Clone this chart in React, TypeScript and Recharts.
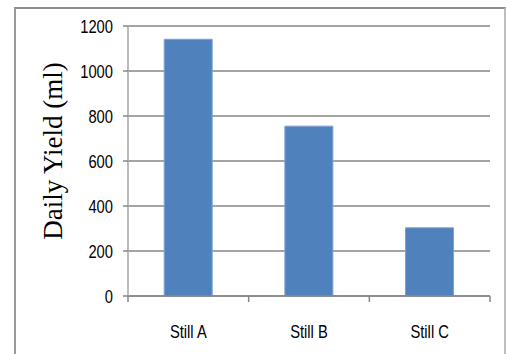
import React from "react";
import { BarChart, Bar, XAxis, YAxis, CartesianGrid } from "recharts";

const stills = ["Still A", "Still B", "Still C"];
const dailyYield = [1141, 755, 303];
const yTicks = [0, 200, 400, 600, 800, 1000, 1200];

const data = stills.map((name, i) => ({ name, yield: dailyYield[i] }));

const tickFont = "'Liberation Sans', Arial, sans-serif";
const squeeze = 0.82;
const gridGray = "#868686";

// narrow-looking tick text: regular sans squeezed horizontally around its anchor
const NarrowText = ({ x, y, anchor, baseline, children }: any) => (
  <text
    x={x}
    y={y}
    textAnchor={anchor}
    dominantBaseline={baseline}
    transform={`translate(${x},${y}) scale(${squeeze},1) translate(${-x},${-y})`}
    fontFamily={tickFont}
    fontSize={18}
    fill="#000"
  >
    {children}
  </text>
);

const YTick = (props: any) => {
  const { x, y, payload } = props;
  return (
    <NarrowText x={x} y={y} anchor="end" baseline="central">
      {payload.value}
    </NarrowText>
  );
};

// category label plus the small marks on the band edges
const XTick = (props: any) => {
  const { x, y, payload, index } = props;
  const half = payload.offset || 0;
  return (
    <g>
      {index === 0 && (
        <line x1={x - half} x2={x - half} y1={y} y2={y + 6} stroke={gridGray} strokeWidth={1.5} />
      )}
      <line x1={x + half} x2={x + half} y1={y} y2={y + 6} stroke={gridGray} strokeWidth={1.5} />
      <NarrowText x={x} y={y + 42} anchor="middle" baseline="alphabetic">
        {payload.value}
      </NarrowText>
    </g>
  );
};

const YLabel = (props: any) => {
  const { viewBox } = props;
  const cx = viewBox.x + 38;
  const cy = viewBox.y + viewBox.height / 2 - 10;
  return (
    <text
      x={cx}
      y={cy}
      transform={`rotate(-90, ${cx}, ${cy})`}
      textAnchor="middle"
      dominantBaseline="central"
      fontFamily="'Liberation Serif', 'Times New Roman', serif"
      fontSize={27}
      fill="#000"
    >
      Daily Yield (ml)
    </text>
  );
};

const App: React.FC = () => {
  return (
    <div style={{ position: "absolute", left: 0, top: 0, width: 506, height: 354, background: "#fff" }}>
      <div
        style={{
          position: "absolute",
          left: 14,
          top: 7,
          width: 488,
          height: 360,
          borderLeft: "2px solid #9a9a9a",
          borderTop: "2px solid #8c8c8c",
          borderRight: "2px solid #bdbdbd",
        }}
      />
      <BarChart
        width={506}
        height={354}
        data={data}
        margin={{ top: 26, right: 16, bottom: 28, left: 15 }}
        barCategoryGap="30%"
        style={{ position: "absolute", left: 0, top: 0 }}
      >
        <CartesianGrid vertical={false} stroke={gridGray} strokeWidth={1.5} />
        <XAxis
          dataKey="name"
          height={30}
          axisLine={{ stroke: gridGray, strokeWidth: 1.5 }}
          tickLine={false}
          tickSize={0}
          tickMargin={0}
          tick={<XTick />}
        />
        <YAxis
          width={113}
          domain={[0, 1200]}
          ticks={yTicks}
          interval={0}
          axisLine={{ stroke: "#a6a6a6", strokeWidth: 1.5 }}
          tickSize={5}
          tickMargin={10}
          tickLine={{ stroke: gridGray, strokeWidth: 1.5 }}
          tick={<YTick />}
          label={<YLabel />}
        />
        <Bar dataKey="yield" fill="#4f81bd" stroke="#7ea1d3" strokeWidth={1} isAnimationActive={false} />
      </BarChart>
    </div>
  );
};

export default App;
